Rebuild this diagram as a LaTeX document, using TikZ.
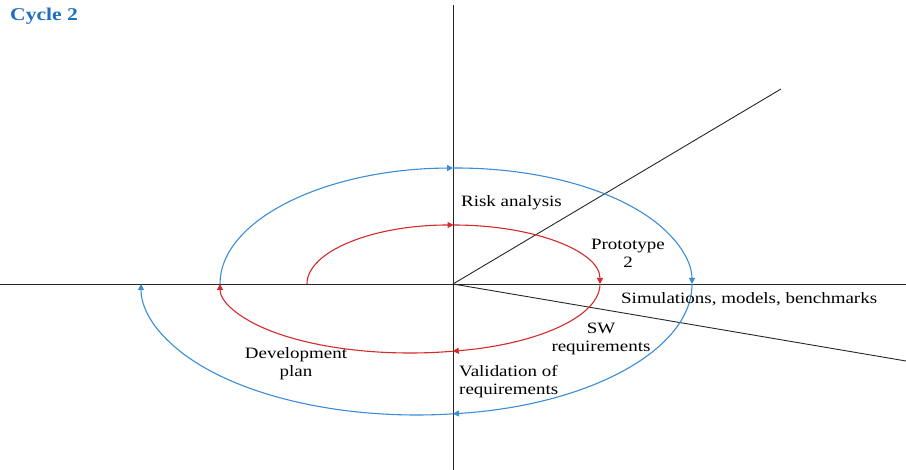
\documentclass[tikz,border=0pt]{standalone}
\usepackage{fontspec}
\setmainfont{Liberation Serif}[FakeStretch=1.2]
\usetikzlibrary{arrows.meta}
\definecolor{spblue}{HTML}{3A8DD6}
\definecolor{spred}{HTML}{D42A2A}
\definecolor{titleblue}{HTML}{1F6FC0}
\begin{document}
\begin{tikzpicture}[x=1pt,y=-1pt,
  axis/.style={black!85,line width=0.9pt},
  redarc/.style={spred,line width=1.1pt,-{Triangle[length=6pt,width=6pt]}},
  bluearc/.style={spblue,line width=1.1pt,-{Triangle[length=6pt,width=6pt]}},
  lbl/.style={font=\fontsize{15.8}{18}\selectfont,inner sep=0pt,text=black}]
\useasboundingbox (0,0) rectangle (906,470);
% axes
\coordinate (O) at (453,284);
\coordinate (vtop) at (453,5);
\coordinate (vbot) at (453,470);
\coordinate (hl) at (0,284);
\coordinate (hr) at (906,284);
\coordinate (d1) at (781,89);
\coordinate (d2) at (906,361);
\draw[axis] (vtop) -- (vbot);
\draw[axis] (hl) -- (hr);
\draw[axis] (O) -- (d1);
\draw[axis] (O) -- (d2);
% red spiral
\coordinate (r0) at (307,284);
\draw[redarc] (r0) arc[start angle=180,end angle=90,x radius=146.5pt,y radius=59pt] coordinate (r1);
\draw[redarc] (r1) arc[start angle=90,end angle=0,x radius=146.5pt,y radius=59pt] coordinate (r2);
\draw[redarc] (r2) arc[start angle=0,end angle=-77,x radius=190pt,y radius=69pt] coordinate (r3);
\draw[redarc] (r3) arc[start angle=-77,end angle=-180,x radius=190pt,y radius=69pt] coordinate (r4);
% blue spiral
\draw[bluearc] (r4) arc[start angle=180,end angle=90.7,x radius=236pt,y radius=116pt] coordinate (b1);
\draw[bluearc] (b1) arc[start angle=90.7,end angle=0,x radius=236pt,y radius=116pt] coordinate (b2);
\draw[bluearc] (b2) arc[start angle=0,end angle=-82.4,x radius=275.5pt,y radius=131pt] coordinate (b3);
\draw[bluearc] (b3) arc[start angle=-82.4,end angle=-180,x radius=275.5pt,y radius=131pt] coordinate (b4);
% labels
\node[font=\fontsize{18}{20}\selectfont\bfseries,text=titleblue,anchor=west,inner sep=0pt] (title) at (10,16) {Cycle 2};
\node[lbl,anchor=west] (risk) at (461,203) {Risk analysis};
\node[lbl,align=center] (proto) at (628,253) {Prototype\\2};
\node[lbl,anchor=west] (sim) at (621,299) {Simulations, models, benchmarks};
\node[lbl,align=center] (sw) at (601,339) {SW\\requirements};
\node[lbl,align=center] (dev) at (296,364) {Development\\plan};
\node[lbl,align=left,anchor=west] (val) at (459,382) {Validation of\\requirements};
\end{tikzpicture}
\end{document}
